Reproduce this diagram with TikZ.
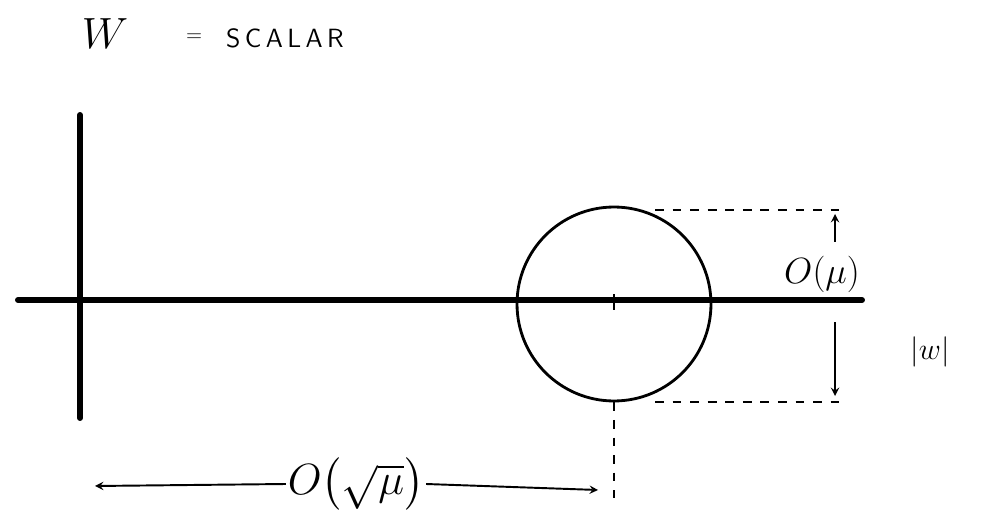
\documentclass[tikz,border=0pt]{standalone}
\usepackage{amsmath}
\usepackage{tikz}
\usetikzlibrary{arrows, positioning}

\begin{document}
\begin{tikzpicture}[x=0.02cm, y=-0.02cm,
        axis/.style={
            line width=3.4pt,
            line cap=round,
            draw=black
        },
        ring/.style={
            circle,
            draw=black,
            line width=1.6pt,
            minimum size=3.88cm,
            inner sep=0pt
        },
        guide/.style={
            line width=1pt,
            dash pattern=on 5pt off 5pt
        },
        dim/.style={
            ->,
            >=stealth,
            line width=1.1pt
        },
        lbl/.style={
            font=\fontsize{20}{22}\selectfont,
            inner sep=1pt
        }
    ]
        \useasboundingbox (0,0) rectangle (987,520);

        % Nodes
        \coordinate (vtop) at (80,115);
        \coordinate (vbot) at (80,418);
        \coordinate (hleft) at (18,300);
        \coordinate (hright) at (862,300);
        \node[ring] (disc) at (614,304) {};
        \coordinate (ticktop) at (614,294);
        \coordinate (tickbot) at (614,310);
        \coordinate (topstart) at (655,210);
        \coordinate (topend) at (842,210);
        \coordinate (botstart) at (655,402);
        \coordinate (botend) at (845,402);
        \coordinate (dropend) at (614,498);
        \coordinate (upfrom) at (835,242);
        \coordinate (upto) at (835,214);
        \coordinate (downfrom) at (835,322);
        \coordinate (downto) at (835,396);
        \node[font=\fontsize{26}{28}\selectfont] (wvar) at (105,34) {$W$};
        \node[font=\fontsize{13}{15}\selectfont, anchor=west] (eqs) at (180,38) {$=$};
        \node[font=\fontsize{15}{17}\selectfont\sffamily, anchor=west] (scal) at (220,38) {S\,C\,A\,L\,A\,R};
        \node[lbl] (small) at (822,274) {$O(\mu)$};
        \node[lbl, font=\fontsize{17}{19}\selectfont] (modw) at (930,352) {$|w|$};
        \node[lbl, font=\fontsize{24}{26}\selectfont] (big) at (356,484) {$O\bigl(\sqrt{\mu}\bigr)$};
        \coordinate (bigleft) at (95,486);
        \coordinate (bigright) at (598,490);

        % Paths
        \draw[axis] (vtop) -- (vbot);
        \draw[axis] (hleft) -- (hright);
        \draw[thick] (ticktop) -- (tickbot);
        \draw[guide] (topstart) -- (topend);
        \draw[guide] (botstart) -- (botend);
        \draw[guide] (disc.south) -- (dropend);
        \draw[dim] (upfrom) -- (upto);
        \draw[dim] (downfrom) -- (downto);
        \draw[dim] (big.west) -- (bigleft);
        \draw[dim] (big.east) -- (bigright);
\end{tikzpicture}
\end{document}
